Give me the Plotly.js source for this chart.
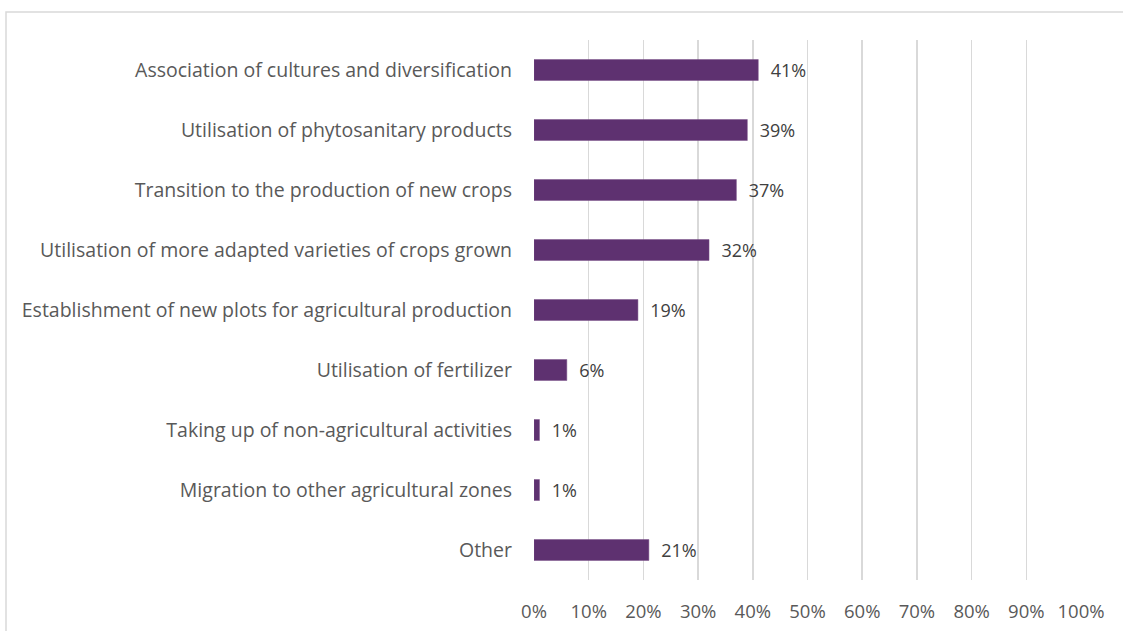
<!DOCTYPE html>
<html><head><meta charset="utf-8">
<script src="https://cdn.plot.ly/plotly-3.0.1.min.js"></script>
<style>html,body{margin:0;padding:0;background:#fff;}#chart{width:1123px;height:631px;}</style>
</head><body><div id="chart"></div>
<script>
const categories = [
  "Association of cultures and diversification",
  "Utilisation of phytosanitary products",
  "Transition to the production of new crops",
  "Utilisation of more adapted varieties of crops grown",
  "Establishment of new plots for agricultural production",
  "Utilisation of fertilizer",
  "Taking up of non-agricultural activities",
  "Migration to other agricultural zones",
  "Other"
];
const values = [0.41, 0.39, 0.37, 0.32, 0.19, 0.06, 0.01, 0.01, 0.21];
const tickVals = [0,0.1,0.2,0.3,0.4,0.5,0.6,0.7,0.8,0.9,1.0];
const tickText = ["0%","10%","20%","30%","40%","50%","60%","70%","80%","90%","100%"];

const font = "Open Sans, Noto Sans, sans-serif";
const trace = {
  type: "bar", orientation: "h",
  x: values, y: categories,
  marker: {color: "#5E3170", line: {color: "#7A5089", width: 0.5}},
  text: values.map(v => "\u00a0\u00a0" + Math.round(v*100) + "%"),
  textposition: "outside",
  constraintext: "none",
  textfont: {family: font, size: 18, color: "#404040"},
  cliponaxis: false,
  hoverinfo: "skip"
};
const layout = {
  width: 1123, height: 631,
  margin: {l: 534, r: 42, t: 40, b: 51},
  paper_bgcolor: "#fff", plot_bgcolor: "#fff",
  bargap: 0.65,
  showlegend: false,
  xaxis: {
    range: [0, 1], tickvals: tickVals, ticktext: tickText,
    showgrid: true, gridcolor: "#D9D9D9", gridwidth: 1.5,
    zeroline: false, showline: false, ticks: "",
    tickfont: {family: font, size: 18.5, color: "#595959"},
    ticklabelstandoff: 18, fixedrange: true
  },
  yaxis: {
    autorange: "reversed", showgrid: false, zeroline: false, showline: false,
    ticks: "", ticklabelstandoff: 21,
    tickfont: {family: font, size: 19.5, color: "#595959"}, fixedrange: true
  },
  shapes: [{
    type: "rect", xref: "paper", yref: "paper",
    x0: (6-534)/547, x1: (1130-534)/547,
    y0: (580-640)/540, y1: (580-12)/540,
    line: {color: "#D9D9D9", width: 1.5}, fillcolor: "rgba(0,0,0,0)", layer: "below"
  }]
};
Plotly.newPlot("chart", [trace], layout, {displayModeBar: false, staticPlot: true});
</script></body></html>
